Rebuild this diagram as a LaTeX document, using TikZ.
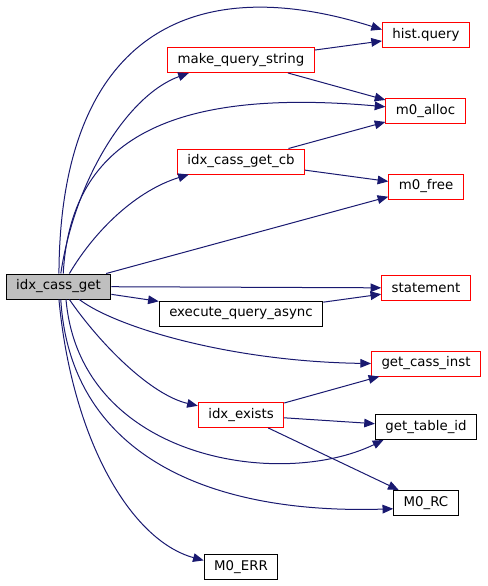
\documentclass[tikz,border=0pt]{standalone}
\usepackage{fontspec}
\setmainfont{DejaVu Sans}
\usepackage{xcolor}
\usepackage{tikz}
\usetikzlibrary{arrows.meta}
\definecolor{edge}{HTML}{191970}
\definecolor{rootfill}{HTML}{BFBFBF}
\definecolor{trunc}{HTML}{FF0000}

\begin{document}
\begin{tikzpicture}[
  x=0.75pt, y=-0.75pt,
  fn/.style={draw=black, line width=0.75pt, fill=white, rectangle,
             minimum height=18.75pt, inner xsep=7.5pt, inner ysep=0pt,
             font=\fontsize{10}{12}\selectfont},
  cut/.style={fn, draw=trunc},
  root/.style={fn, fill=rootfill},
  call/.style={draw=edge, line width=0.75pt,
               -{Triangle[length=8pt, width=6.5pt]}}
]
  \useasboundingbox (0,0) rectangle (487,586);

  \node[root] (main) at (58.5,286.5) {idx\_cass\_get};

  \node[cut] (mqs)    at (241,60)    {make\_query\_string};
  \node[cut] (cb)     at (241,161.5) {idx\_cass\_get\_cb};
  \node[fn]  (eqa)    at (241,313.5) {execute\_query\_async};
  \node[cut] (exists) at (241,415)   {idx\_exists};
  \node[fn]  (err)    at (241,567)   {M0\_ERR};

  \node[cut] (hist)  at (426,35)    {hist.query};
  \node[cut] (alloc) at (425.5,111) {m0\_alloc};
  \node[cut] (free)  at (426,186.5) {m0\_free};
  \node[cut] (stmt)  at (426,288)   {statement};
  \node[cut] (gci)   at (426,363.5) {get\_cass\_inst};
  \node[fn]  (gti)   at (426,427)   {get\_table\_id};
  \node[fn]  (rc)    at (426,503)   {M0\_RC};

  % calls going up
  \draw[call] (main.88) .. controls +(1,-232) and +(-196,-62) .. (hist.173);
  \draw[call] (main.80) .. controls +(14,-94) and +(-61,22) .. (mqs.194);
  \draw[call] (main.70) .. controls +(7,-128) and +(-225,-20) .. (alloc.174);
  \draw[call] (main.50) .. controls +(26,-44) and +(-52,16) .. (cb.194);
  \draw[call] (main) -- (free);
  \draw[call] (main) -- (stmt);
  \draw[call] (main) -- (eqa);

  % calls going down
  \draw[call] (main.-32) .. controls +(37,28) and +(-140,-2) .. (gci.west);
  \draw[call] (main.-50) .. controls +(31,45) and +(-47,-11) .. (exists.168);
  \draw[call] (main.-60) .. controls +(14,160) and +(-103,50) .. (gti.197);
  \draw[call] (main.-80) .. controls +(9,150) and +(-193,6) .. (rc.190);
  \draw[call] (main.-88) .. controls +(13,140) and +(-73,-20) .. (err.170);

  % second level
  \draw[call] (mqs) -- (hist);
  \draw[call] (mqs) -- (alloc);
  \draw[call] (cb) -- (alloc);
  \draw[call] (cb) -- (free);
  \draw[call] (eqa) -- (stmt);
  \draw[call] (exists) -- (gci);
  \draw[call] (exists) -- (gti);
  \draw[call] (exists) -- (rc);

\end{tikzpicture}
\end{document}
